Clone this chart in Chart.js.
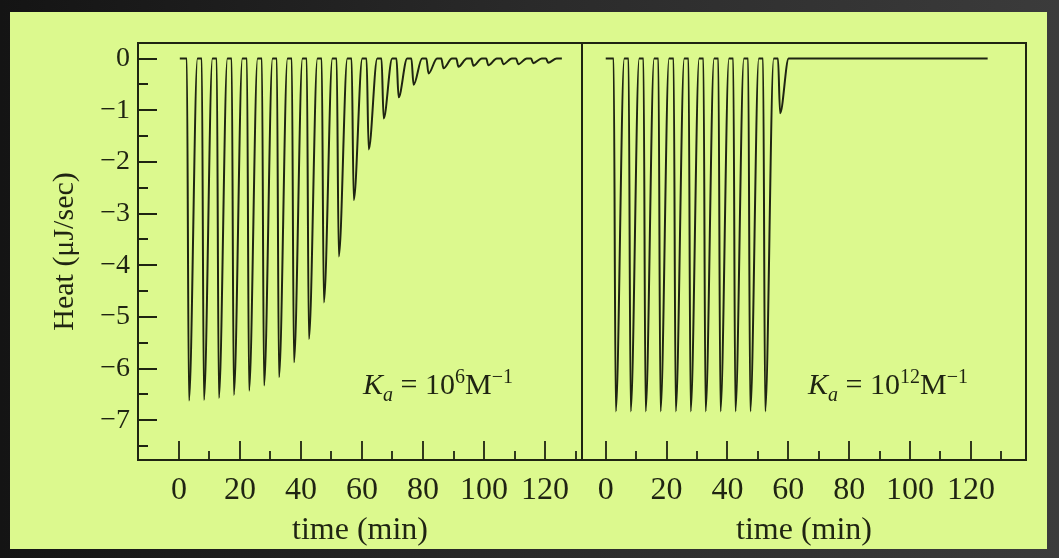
<!DOCTYPE html>
<html>
<head>
<meta charset="utf-8">
<script src="https://cdn.jsdelivr.net/npm/chart.js@4.4.1/dist/chart.umd.min.js"></script>
<style>
  html, body { margin: 0; padding: 0; }
  body {
    width: 1059px; height: 558px; position: relative; overflow: hidden;
    background: linear-gradient(90deg, #141414 0%, #2a2a2a 50%, #3b3b3b 100%);
  }
  #paper { position: absolute; left: 10px; top: 12px; width: 1037px; height: 537px; background: #dcf98e; }
  canvas { position: absolute; left: 0; top: 0; }
  .ka {
    position: absolute; top: 369px; font-family: "Liberation Serif", "Times New Roman", serif;
    font-size: 30px; line-height: 30px; color: #1f2412; white-space: nowrap;
  }
  .ka sub, .ka sup { font-size: 20px; line-height: 0; }
</style>
</head>
<body>
<div id="paper"></div>
<canvas id="leftPanel" width="1059" height="558"></canvas>
<canvas id="rightPanel" width="1059" height="558"></canvas>
<div class="ka" style="left:363px"><i>K<sub>a</sub></i> = 10<sup>6</sup>M<sup>&minus;1</sup></div>
<div class="ka" style="left:808px"><i>K<sub>a</sub></i> = 10<sup>12</sup>M<sup>&minus;1</sup></div>
<script>
// peak minima of each injection (time in min, heat in uJ/sec)
const peakTimes = [3.3, 8.2, 13.1, 18.0, 23.0, 27.9, 32.8, 37.7, 42.6, 47.5, 52.4, 57.3,
                   62.2, 67.1, 72.0, 76.9, 81.8, 86.7, 91.6, 96.5, 101.4, 106.3, 111.2, 116.1, 121.0];
const heatKa6 = [-6.62, -6.61, -6.57, -6.51, -6.43, -6.33, -6.17, -5.88, -5.43, -4.72, -3.83, -2.74,
                 -1.76, -1.16, -0.75, -0.51, -0.29, -0.19, -0.16, -0.14, -0.13, -0.11, -0.11, -0.09, -0.08];
const heatKa12 = [-6.83, -6.83, -6.83, -6.83, -6.83, -6.83, -6.83, -6.83, -6.83, -6.83, -6.83, -1.06];
const runStart = [0.3, 0];
const runEnd = [125.5, 125.5];

const timeTicks = [0, 20, 40, 60, 80, 100, 120];
const timeMinor = [10, 30, 50, 70, 90, 110, 130];
const heatTicks = [0, -1, -2, -3, -4, -5, -6, -7];
const heatMinor = [-0.5, -1.5, -2.5, -3.5, -4.5, -5.5, -6.5, -7.5];

const INK = '#1f2412';
const FONT = '"Liberation Serif", "Times New Roman", serif';
const FALL = 0.7;   // min from injection start to peak minimum
const RISE = 2.8;   // min from minimum back to baseline

function trace(heats, start, end) {
    const pts = [{ x: start, y: 0 }];
    heats.forEach((h, i) => {
        const t = peakTimes[i];
        pts.push({ x: t - FALL, y: 0 }, { x: t, y: h }, { x: t + RISE, y: 0 });
    });
    pts.push({ x: end, y: 0 });
    return pts;
}

// frame and inward tick marks, placed with the chart's own scales
const frameTicks = {
    id: 'frameTicks',
    afterDraw(chart, args, opts) {
        const { ctx, chartArea: a, scales } = chart;
        ctx.save();
        ctx.strokeStyle = INK;
        ctx.lineWidth = 2;
        ctx.strokeRect(a.left, a.top, a.right - a.left, a.bottom - a.top);
        ctx.lineWidth = 1.8;
        ctx.beginPath();
        timeTicks.forEach(v => {
            const px = Math.round(scales.x.getPixelForValue(v));
            ctx.moveTo(px, a.bottom); ctx.lineTo(px, a.bottom - 19);
        });
        timeMinor.forEach(v => {
            const px = Math.round(scales.x.getPixelForValue(v));
            ctx.moveTo(px, a.bottom); ctx.lineTo(px, a.bottom - 9);
        });
        if (opts.yTicks) {
            heatTicks.forEach(v => {
                const py = Math.round(scales.y.getPixelForValue(v));
                ctx.moveTo(a.left, py); ctx.lineTo(a.left + 19, py);
            });
            heatMinor.forEach(v => {
                const py = Math.round(scales.y.getPixelForValue(v));
                ctx.moveTo(a.left, py); ctx.lineTo(a.left + 10, py);
            });
        }
        ctx.stroke();
        ctx.restore();
    }
};

function makePanel(id, points, xMin, xMax, padding, showY) {
    return new Chart(document.getElementById(id), {
        type: 'line',
        data: {
            datasets: [{
                data: points,
                borderColor: INK,
                borderWidth: 2,
                pointRadius: 0,
                fill: false,
                cubicInterpolationMode: 'monotone'
            }]
        },
        options: {
            responsive: false,
            animation: false,
            events: [],
            layout: { padding: padding },
            plugins: {
                legend: { display: false },
                tooltip: { enabled: false },
                frameTicks: { yTicks: showY }
            },
            scales: {
                x: {
                    type: 'linear',
                    min: xMin,
                    max: xMax,
                    grid: { display: false, drawTicks: false },
                    border: { display: false },
                    afterBuildTicks: s => { s.ticks = timeTicks.map(v => ({ value: v })); },
                    afterFit: s => { s.height = 98; },
                    ticks: { autoSkip: false, maxRotation: 0, padding: 11, color: INK, font: { family: FONT, size: 32 } },
                    title: { display: true, text: 'time (min)', color: INK, font: { family: FONT, size: 32 }, padding: { top: 0, bottom: 8 } }
                },
                y: {
                    display: showY,
                    min: -7.77,
                    max: 0.30,
                    grid: { display: false, drawTicks: false },
                    border: { display: false },
                    afterBuildTicks: s => { s.ticks = heatTicks.map(v => ({ value: v })); },
                    afterFit: s => { s.width = showY ? 138 : 0; },
                    ticks: {
                        autoSkip: false, padding: 8, color: INK, font: { family: FONT, size: 28 },
                        callback: v => v < 0 ? '\u2212' + Math.abs(v) : String(v)
                    },
                    title: { display: true, text: 'Heat (\u03bcJ/sec)', color: INK, font: { family: FONT, size: 30 }, padding: { top: 47, bottom: 0 } }
                }
            }
        },
        plugins: [frameTicks]
    });
}

makePanel('leftPanel', trace(heatKa6, runStart[0], runEnd[0]), -13.4, 132.1,
    { top: 43, left: 0, right: 477, bottom: 0 }, true);
makePanel('rightPanel', trace(heatKa12, runStart[1], runEnd[1]), -7.8, 138.1,
    { top: 43, left: 582, right: 33, bottom: 0 }, false);
</script>
</body>
</html>
